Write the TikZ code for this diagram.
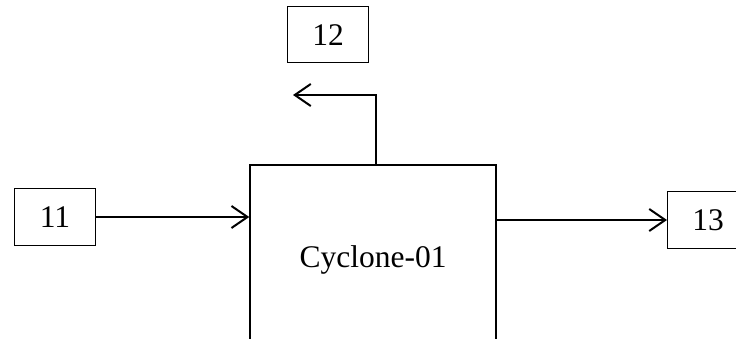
\documentclass[tikz,border=0pt]{standalone}
\usepackage{fontspec}
\setmainfont{Liberation Serif}
\usepackage{tikz}
\usetikzlibrary{arrows.meta}

\tikzset{
  streambox/.style={draw, line width=1pt, minimum width=81pt, minimum height=56pt, inner sep=0pt},
  unitbox/.style={draw, line width=1.5pt, minimum width=246pt, minimum height=190pt, inner sep=0pt},
  flow/.style={line width=2pt, -{Straight Barb[length=16pt,width=22pt,line width=2pt]}}
}

\begin{document}
\begin{tikzpicture}[x=1pt,y=-1pt,font=\fontsize{31.5}{36}\selectfont]
  \useasboundingbox (0,0) rectangle (736,339);
  \clip (0,0) rectangle (736,339);
  % unit
  \node[unitbox] (cyc) at (373,260) {Cyclone-01};
  % streams
  \node[streambox] (s11) at (55,217) {11};
  \node[streambox] (s12) at (328,35) {12};
  \node[streambox] (s13) at (708,220) {13};
  \coordinate (out12) at (293,95);
  % connectors
  \draw[flow] (s11.east) -- (s11 -| cyc.west);
  \draw[flow] ([xshift=3pt]cyc.north) |- (out12);
  \draw[flow] (cyc.east |- s13) -- (s13.west);
\end{tikzpicture}
\end{document}
